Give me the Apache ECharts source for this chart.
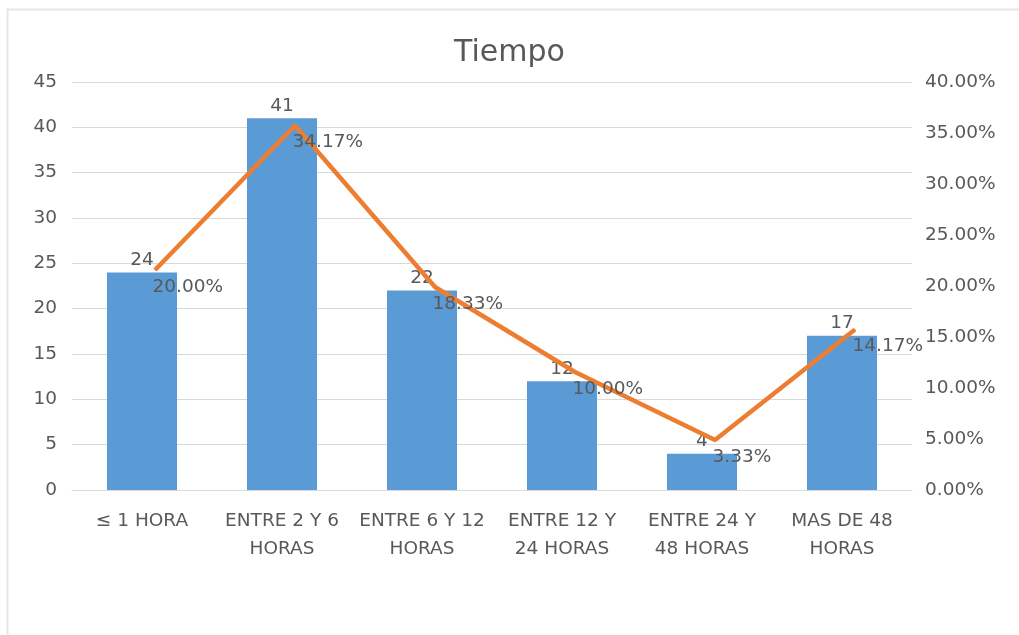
<!DOCTYPE html>
<html>
<head>
<meta charset="utf-8">
<script src="https://cdn.jsdelivr.net/npm/echarts@6/dist/echarts.min.js"></script>
<style>
  html, body { margin: 0; padding: 0; background: #fff; }
  #chart { width: 1019px; height: 635px; }
</style>
</head>
<body>
<div id="chart"></div>
<script>
// 数据
const categories = ["≤ 1 HORA", "ENTRE 2 Y 6\nHORAS", "ENTRE 6 Y 12\nHORAS", "ENTRE 12 Y\n24 HORAS", "ENTRE 24 Y\n48 HORAS", "MAS DE 48\nHORAS"];
const counts = [24, 41, 22, 12, 4, 17];
const shares = [0.2, 0.3417, 0.1833, 0.1, 0.0333, 0.1417];
const leftTicks = { min: 0, max: 45, interval: 5 };
const rightTicks = { min: 0, max: 0.4, interval: 0.05 };

const font = "DejaVu Sans";
const grey = "#595959";
const pct = (v) => (v * 100).toFixed(2) + "%";

const chart = echarts.init(document.getElementById("chart"));

const option = {
  backgroundColor: "#fff",
  animation: false,
  title: {
    text: "Tiempo",
    left: "center",
    top: 33,
    textStyle: { fontFamily: font, fontSize: 30, fontWeight: "normal", color: grey },
  },
  graphic: [
    {
      // 外框
      type: "rect",
      shape: { x: 7.5, y: 9.5, width: 1100, height: 700 },
      style: { fill: "none", stroke: "#e6e6e6", lineWidth: 2 },
      silent: true,
    },
  ],
  grid: [
    { left: 72, right: 107, top: 82, bottom: 145 },
    // 原图折线整体向右上偏移，用第二个隐藏网格还原
    { left: 85, right: 94, top: 66, bottom: 161 },
  ],
  xAxis: [
    {
      type: "category",
      data: categories,
      axisTick: { show: false },
      axisLine: { lineStyle: { color: "#d9d9d9", width: 1 } },
      axisLabel: { color: grey, fontFamily: font, fontSize: 18.5, margin: 17, lineHeight: 28, interval: 0 },
    },
    { type: "category", gridIndex: 1, data: categories, show: false },
  ],
  yAxis: [
    {
      type: "value",
      min: leftTicks.min,
      max: leftTicks.max,
      interval: leftTicks.interval,
      axisLabel: { color: grey, fontFamily: font, fontSize: 18.5, margin: 15 },
      splitLine: { lineStyle: { color: "#d9d9d9", width: 1 } },
    },
    {
      type: "value",
      min: rightTicks.min,
      max: rightTicks.max,
      interval: rightTicks.interval,
      axisLabel: { color: grey, fontFamily: font, fontSize: 18.5, margin: 13, formatter: pct },
      splitLine: { show: false },
    },
    {
      type: "value",
      gridIndex: 1,
      show: false,
      min: rightTicks.min,
      max: rightTicks.max,
      splitLine: { show: false },
    },
  ],
  series: [
    {
      type: "bar",
      data: counts,
      barWidth: "50%",
      itemStyle: { color: "#5B9BD5" },
      label: { show: true, position: "top", distance: 3, color: grey, fontFamily: font, fontSize: 18.5 },
    },
    {
      type: "line",
      xAxisIndex: 1,
      yAxisIndex: 2,
      data: shares,
      symbol: "circle",
      symbolSize: 1,
      itemStyle: { color: "#ED7D31" },
      lineStyle: { color: "#ED7D31", width: 4.5 },
      label: {
        show: true,
        position: "right",
        distance: 0,
        offset: [-3, 17],
        color: grey,
        fontFamily: font,
        fontSize: 18.5,
        formatter: (p) => pct(p.value),
      },
      z: 3,
    },
  ],
};

chart.setOption(option);
</script>
</body>
</html>
